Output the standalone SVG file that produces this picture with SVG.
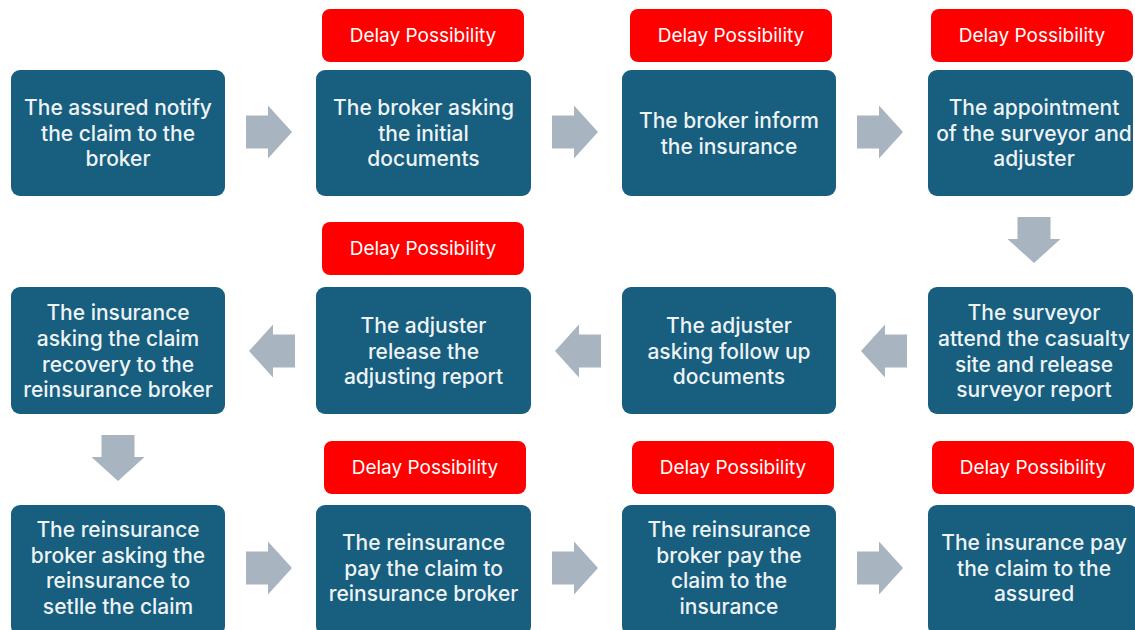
<svg xmlns="http://www.w3.org/2000/svg" width="1135" height="630" viewBox="0 0 1135 630">
  <style>
    .step { fill: #175E7F; }
    .delay { fill: #FF0000; }
    .step-text { font-family: Inter, "Liberation Sans", sans-serif; font-size: 21px; font-weight: 500; fill: #EEF3F6; text-anchor: middle; dominant-baseline: central; }
    .delay-text { font-family: Inter, "Liberation Sans", sans-serif; font-size: 19px; font-weight: 400; fill: #FFFFFF; text-anchor: middle; dominant-baseline: central; }
    .arrow { fill: #A9B4C1; }
  </style>
  <defs>
    <!-- block arrow pointing right, centred on the origin -->
    <path id="blockArrow" class="arrow" d="M-23,-16.5 H-1 V-26.5 L23,0 L-1,26.5 V16.5 H-23 Z"/>
  </defs>

  <rect width="1135" height="630" fill="#FFFFFF"/>

  <!-- flow connectors -->
  <g id="connectors">
    <use href="#blockArrow" transform="translate(269,132)"/>
    <use href="#blockArrow" transform="translate(575,132)"/>
    <use href="#blockArrow" transform="translate(880,132)"/>
    <use href="#blockArrow" transform="translate(1034,240) rotate(90)"/>
    <use href="#blockArrow" transform="translate(884,351) rotate(180)"/>
    <use href="#blockArrow" transform="translate(578,351) rotate(180)"/>
    <use href="#blockArrow" transform="translate(272,351) rotate(180)"/>
    <use href="#blockArrow" transform="translate(118,458) rotate(90)"/>
    <use href="#blockArrow" transform="translate(269,568)"/>
    <use href="#blockArrow" transform="translate(575,568)"/>
    <use href="#blockArrow" transform="translate(880,568)"/>
  </g>

  <!-- row 1 -->
  <g id="step1">
    <rect class="step" x="11" y="70" width="214" height="126" rx="9"/>
    <text class="step-text" x="118"><tspan x="118" y="107">The assured notify</tspan><tspan x="118" y="133">the claim to the</tspan><tspan x="118" y="158">broker</tspan></text>
  </g>
  <g id="delay1">
    <rect class="delay" x="322" y="9" width="202" height="53" rx="8"/>
    <text class="delay-text" x="423" y="35">Delay Possibility</text>
  </g>
  <g id="step2">
    <rect class="step" x="316" y="70" width="215" height="126" rx="9"/>
    <text class="step-text"><tspan x="423.5" y="107">The broker asking</tspan><tspan x="423.5" y="133">the initial</tspan><tspan x="423.5" y="158">documents</tspan></text>
  </g>
  <g id="delay2">
    <rect class="delay" x="630" y="9" width="202" height="53" rx="8"/>
    <text class="delay-text" x="731" y="35">Delay Possibility</text>
  </g>
  <g id="step3">
    <rect class="step" x="622" y="70" width="214" height="126" rx="9"/>
    <text class="step-text"><tspan x="729" y="120">The broker inform</tspan><tspan x="729" y="146">the insurance</tspan></text>
  </g>
  <g id="delay3">
    <rect class="delay" x="931" y="9" width="202" height="53" rx="8"/>
    <text class="delay-text" x="1032" y="35">Delay Possibility</text>
  </g>
  <g id="step4">
    <rect class="step" x="928" y="70" width="205" height="126" rx="9"/>
    <text class="step-text"><tspan x="1034" y="107">The appointment</tspan><tspan x="1034" y="133">of the surveyor and</tspan><tspan x="1034" y="158">adjuster</tspan></text>
  </g>

  <!-- row 2 -->
  <g id="step5">
    <rect class="step" x="928" y="287" width="205" height="127" rx="9"/>
    <text class="step-text"><tspan x="1034" y="312">The surveyor</tspan><tspan x="1034" y="338">attend the casualty</tspan><tspan x="1034" y="364">site and release</tspan><tspan x="1034" y="389">surveyor report</tspan></text>
  </g>
  <g id="step6">
    <rect class="step" x="622" y="287" width="214" height="127" rx="9"/>
    <text class="step-text"><tspan x="729" y="325">The adjuster</tspan><tspan x="729" y="351">asking follow up</tspan><tspan x="729" y="376">documents</tspan></text>
  </g>
  <g id="delay4">
    <rect class="delay" x="322" y="222" width="202" height="53" rx="8"/>
    <text class="delay-text" x="423" y="248">Delay Possibility</text>
  </g>
  <g id="step7">
    <rect class="step" x="316" y="287" width="215" height="127" rx="9"/>
    <text class="step-text"><tspan x="423.5" y="325">The adjuster</tspan><tspan x="423.5" y="351">release the</tspan><tspan x="423.5" y="376">adjusting report</tspan></text>
  </g>
  <g id="step8">
    <rect class="step" x="11" y="287" width="214" height="127" rx="9"/>
    <text class="step-text"><tspan x="118" y="312">The insurance</tspan><tspan x="118" y="338">asking the claim</tspan><tspan x="118" y="364">recovery to the</tspan><tspan x="118" y="389">reinsurance broker</tspan></text>
  </g>

  <!-- row 3 -->
  <g id="step9">
    <rect class="step" x="11" y="505" width="214" height="130" rx="9"/>
    <text class="step-text"><tspan x="118" y="529">The reinsurance</tspan><tspan x="118" y="555">broker asking the</tspan><tspan x="118" y="580">reinsurance to</tspan><tspan x="118" y="606">setlle the claim</tspan></text>
  </g>
  <g id="delay5">
    <rect class="delay" x="324" y="441" width="202" height="53" rx="8"/>
    <text class="delay-text" x="425" y="467">Delay Possibility</text>
  </g>
  <g id="step10">
    <rect class="step" x="316" y="505" width="215" height="130" rx="9"/>
    <text class="step-text"><tspan x="423.5" y="542">The reinsurance</tspan><tspan x="423.5" y="568">pay the claim to</tspan><tspan x="423.5" y="593">reinsurance broker</tspan></text>
  </g>
  <g id="delay6">
    <rect class="delay" x="632" y="441" width="202" height="53" rx="8"/>
    <text class="delay-text" x="733" y="467">Delay Possibility</text>
  </g>
  <g id="step11">
    <rect class="step" x="622" y="505" width="214" height="130" rx="9"/>
    <text class="step-text"><tspan x="729" y="529">The reinsurance</tspan><tspan x="729" y="555">broker pay the</tspan><tspan x="729" y="580">claim to the</tspan><tspan x="729" y="606">insurance</tspan></text>
  </g>
  <g id="delay7">
    <rect class="delay" x="932" y="441" width="202" height="53" rx="8"/>
    <text class="delay-text" x="1033" y="467">Delay Possibility</text>
  </g>
  <g id="step12">
    <rect class="step" x="928" y="505" width="210" height="130" rx="9"/>
    <text class="step-text"><tspan x="1034" y="542">The insurance pay</tspan><tspan x="1034" y="568">the claim to the</tspan><tspan x="1034" y="593">assured</tspan></text>
  </g>
</svg>
